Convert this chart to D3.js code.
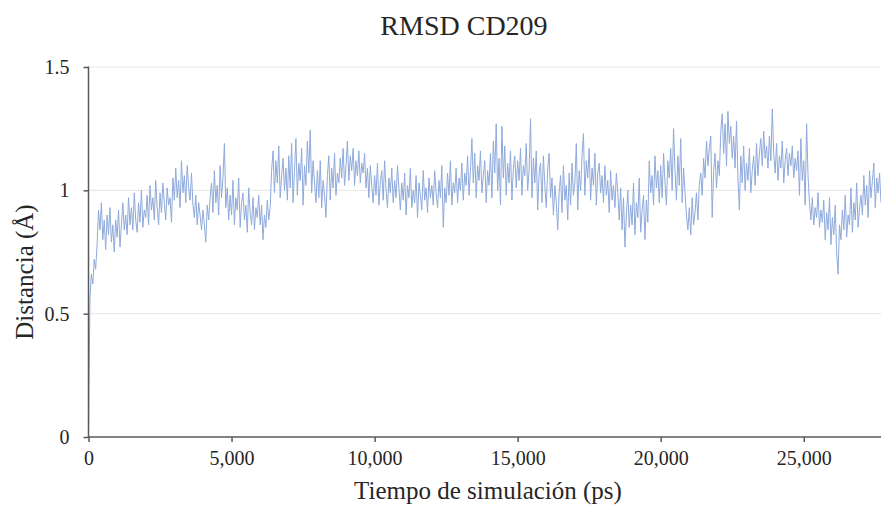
<!DOCTYPE html>
<html>
<head>
<meta charset="utf-8">
<script src="https://cdn.jsdelivr.net/npm/d3@7"></script>
<style>
    html, body { margin: 0; padding: 0; background: #fff; }
    svg { display: block; }
    .chart-text { font-family: "Liberation Serif", "Times New Roman", serif; fill: #262626; }
</style>
</head>
<body>
<svg id="chart"></svg>
<script>
// RMSD (Å) sampled every 50 ps, one row per 1000 ps
const rmsd = [
    0.00, 0.56, 0.66, 0.62, 0.72, 0.68, 0.78, 0.92, 0.84, 0.95, 0.80, 0.88, 0.76, 0.90, 0.82, 0.93, 0.79, 0.86, 0.75, 0.88,
    0.81, 0.92, 0.77, 0.86, 0.95, 0.84, 0.90, 0.82, 0.97, 0.86, 0.93, 0.84, 0.99, 0.88, 0.83, 0.95, 0.87, 1.00, 0.85, 0.92,
    0.89, 0.98, 0.86, 1.02, 0.92, 0.97, 0.88, 1.04, 0.93, 0.86, 0.99, 0.91, 1.03, 0.95, 0.88, 1.01, 0.94, 0.97, 0.87, 1.05,
    0.96, 1.09, 0.97, 1.04, 0.93, 1.12, 0.99, 1.06, 0.95, 1.10, 1.01, 0.96, 1.07, 0.94, 0.89, 0.98, 0.86, 0.95, 0.90, 0.84,
    0.92, 0.86, 0.79, 0.94, 0.88, 0.97, 1.03, 0.91, 1.08, 0.95, 1.02, 0.90, 1.10, 0.97, 1.05, 1.19, 0.93, 1.01, 0.88, 0.98,
    0.90, 1.04, 0.86, 0.97, 0.92, 1.05, 0.85, 0.95, 0.99, 0.88, 0.94, 0.83, 1.01, 0.91, 0.86, 0.97, 0.84, 0.93, 0.89, 0.98,
    0.86, 0.94, 0.80, 0.90, 0.85, 0.96, 0.88, 0.93, 1.08, 1.16, 0.99, 1.12, 1.03, 1.18, 0.97, 1.06, 1.13, 1.00, 1.09, 0.96,
    1.14, 1.01, 1.19, 0.95, 1.08, 1.21, 0.98, 1.11, 1.04, 1.17, 0.94, 1.10, 1.02, 1.20, 1.07, 1.245, 0.99, 1.12, 1.03, 0.95,
    1.08, 0.97, 1.12, 0.93, 1.04, 0.98, 0.89, 1.06, 1.14, 0.96, 1.09, 1.01, 1.15, 0.98, 1.07, 1.03, 1.13, 1.05, 1.17, 1.02,
    1.10, 1.20, 1.04, 1.14, 1.08, 1.17, 1.02, 1.12, 1.06, 1.16, 1.03, 1.11, 1.07, 1.15, 1.01, 1.09, 0.97, 1.10, 1.02, 0.95,
    1.06, 0.98, 1.11, 0.94, 1.03, 1.08, 0.96, 1.12, 1.00, 0.93, 1.05, 0.99, 1.09, 0.95, 1.04, 0.97, 1.10, 1.01, 0.92, 1.03,
    0.96, 1.07, 0.90, 1.02, 0.97, 1.09, 0.93, 1.00, 0.95, 1.06, 0.89, 1.03, 0.98, 0.92, 1.08, 0.96, 1.01, 0.91, 1.05, 0.97,
    1.02, 0.94, 1.08, 0.99, 0.93, 1.04, 0.97, 1.10, 0.85, 1.01, 0.95, 1.07, 0.98, 1.12, 0.94, 1.03, 0.99, 1.09, 0.95, 1.05,
    1.00, 1.11, 0.96, 1.07, 1.02, 1.14, 0.98, 1.08, 1.21, 1.03, 1.15, 0.97, 1.10, 1.04, 1.16, 0.99, 1.06, 1.12, 0.95, 1.08,
    1.02, 1.15, 0.97, 1.20, 1.07, 1.27, 1.00, 1.13, 0.94, 1.26, 1.05, 1.18, 0.98, 1.11, 1.03, 1.16, 0.96, 1.09, 1.14, 1.01,
    1.12, 1.04, 1.17, 0.98, 1.10, 1.06, 1.19, 1.00, 1.08, 1.29, 0.97, 1.13, 1.03, 1.16, 0.92, 1.07, 1.11, 0.95, 1.14, 1.02,
    0.93, 1.09, 1.15, 0.97, 1.05, 0.90, 1.02, 0.95, 0.84, 0.99, 1.06, 0.91, 1.10, 0.96, 1.02, 0.88, 1.07, 0.94, 1.11, 0.98,
    1.03, 1.19, 0.92, 1.08, 1.00, 1.14, 1.23, 0.98, 1.12, 1.05, 1.17, 0.96, 1.09, 1.02, 1.15, 0.94, 1.07, 1.11, 0.99, 1.06,
    0.95, 1.10, 0.98, 1.04, 0.91, 1.08, 0.96, 1.02, 0.93, 1.07, 0.99, 0.88, 1.01, 0.84, 0.97, 0.77, 0.90, 1.00, 0.85, 0.94,
    0.86, 1.03, 0.82, 0.95, 0.89, 1.05, 0.83, 0.92, 0.98, 0.80, 0.96, 0.87, 1.12, 0.99, 1.06, 0.94, 1.14, 1.01, 1.08, 0.95,
    1.10, 0.97, 1.15, 1.03, 0.94, 1.12, 1.05, 1.17, 1.00, 1.25, 1.08, 0.96, 1.14, 1.02, 1.21, 0.95, 1.09, 0.99, 0.90, 0.84,
    0.93, 0.82, 0.97, 0.86, 0.91, 0.99, 0.88, 1.02, 1.07, 0.98, 1.13, 1.05, 1.20, 1.10, 1.17, 1.22, 0.89, 1.08, 1.15, 1.01,
    1.12, 1.06, 1.24, 1.31, 1.15, 1.27, 1.10, 1.32, 1.19, 1.26, 1.13, 1.22, 1.09, 1.28, 1.05, 0.92, 1.14, 1.03, 1.18, 1.00,
    1.11, 1.04, 1.17, 0.99, 1.08, 1.14, 1.02, 1.19, 1.06, 1.15, 1.21, 1.10, 1.24, 1.13, 1.18, 1.09, 1.22, 1.12, 1.33, 1.15,
    1.07, 1.19, 1.04, 1.14, 1.09, 1.20, 1.03, 1.12, 1.17, 1.06, 1.15, 1.10, 1.18, 1.05, 1.13, 1.08, 1.16, 0.98, 1.21, 1.04,
    1.12, 0.94, 1.27, 1.06, 0.95, 0.88, 0.97, 0.86, 0.93, 0.89, 0.99, 0.85, 0.92, 0.87, 0.96, 0.80, 0.91, 0.84, 0.97, 0.78,
    0.89, 0.82, 0.94, 0.75, 0.66, 0.86, 0.80, 0.92, 0.84, 0.98, 0.81, 0.90, 0.86, 1.01, 0.83, 0.95, 0.88, 1.03, 0.85, 0.93,
    0.98, 0.90, 1.06, 0.94, 1.02, 0.89, 1.08, 0.97, 1.04, 1.11, 0.93, 1.05, 0.99, 1.07, 0.95
];
const TIME_STEP_PS = 50;
const xTicks = [0, 5000, 10000, 15000, 20000, 25000];
const yTicks = [0, 0.5, 1, 1.5];
const xDomain = [0, 27700];
const yDomain = [0, 1.5];

const ctx = {
    WIDTH: 881,
    HEIGHT: 510,
    LEFT: 88.5,
    RIGHT: 881,
    TOP: 67,
    BOTTOM: 437,
    TICK_LEN: 5,
    AXIS_COLOR: "#595959",
    GRID_COLOR: "#e9e9e9",
    LINE_COLOR: "#8faadc",
};

main();

function main() {
    const svg = d3.select("#chart")
        .attr("width", ctx.WIDTH)
        .attr("height", ctx.HEIGHT);

    const x = d3.scaleLinear().domain(xDomain).range([ctx.LEFT, ctx.RIGHT]);
    const y = d3.scaleLinear().domain(yDomain).range([ctx.BOTTOM, ctx.TOP]);

    drawGrid(svg, x, y);
    drawSeries(svg, x, y);
    drawAxes(svg, x, y);
    drawLabels(svg);
}

function drawGrid(svg, x, y) {
    svg.append("g")
        .selectAll("line")
        .data(yTicks.filter(d => d > 0))
        .enter()
        .append("line")
        .attr("x1", ctx.LEFT)
        .attr("x2", ctx.RIGHT)
        .attr("y1", d => y(d))
        .attr("y2", d => y(d))
        .style("stroke", ctx.GRID_COLOR)
        .style("stroke-width", 1.2);
}

function drawSeries(svg, x, y) {
    const line = d3.line()
        .x((d, i) => x(i * TIME_STEP_PS))
        .y(d => y(d));

    svg.append("path")
        .datum(rmsd)
        .attr("d", line)
        .style("fill", "none")
        .style("stroke", ctx.LINE_COLOR)
        .style("stroke-width", 1)
        .style("stroke-linejoin", "round");
}

function drawAxes(svg, x, y) {
    const xAxis = d3.axisBottom(x)
        .tickValues(xTicks)
        .tickSize(ctx.TICK_LEN)
        .tickPadding(9)
        .tickFormat(d3.format(","));
    const yAxis = d3.axisLeft(y)
        .tickValues(yTicks)
        .tickSize(ctx.TICK_LEN)
        .tickPadding(14)
        .tickFormat(d => d3.format("")(d));

    const gx = svg.append("g")
        .attr("transform", `translate(0,${ctx.BOTTOM})`)
        .call(xAxis);
    const gy = svg.append("g")
        .attr("transform", `translate(${ctx.LEFT},0)`)
        .call(yAxis);

    [gx, gy].forEach(g => {
        g.select(".domain")
            .style("stroke", ctx.AXIS_COLOR)
            .style("stroke-width", 1.5);
        g.selectAll(".tick line")
            .style("stroke", ctx.AXIS_COLOR)
            .style("stroke-width", 1.5);
        g.selectAll(".tick text")
            .attr("class", "chart-text")
            .style("font-size", "20px");
    });
    // domain path has outer ticks of size TICK_LEN; strip them off
    gx.select(".domain").attr("d", `M${ctx.LEFT},0H${ctx.RIGHT}`);
    gy.select(".domain").attr("d", `M0,${ctx.TOP - 0.5}V${ctx.BOTTOM}`);
}

function drawLabels(svg) {
    svg.append("text")
        .attr("class", "chart-text")
        .attr("x", 464)
        .attr("y", 35)
        .attr("text-anchor", "middle")
        .style("font-size", "28px")
        .text("RMSD CD209");

    svg.append("text")
        .attr("class", "chart-text")
        .attr("x", 488)
        .attr("y", 499)
        .attr("text-anchor", "middle")
        .style("font-size", "25px")
        .text("Tiempo de simulación (ps)");

    svg.append("text")
        .attr("class", "chart-text")
        .attr("transform", "translate(33,272) rotate(-90)")
        .attr("text-anchor", "middle")
        .style("font-size", "25px")
        .text("Distancia (Å)");
}
</script>
</body>
</html>
